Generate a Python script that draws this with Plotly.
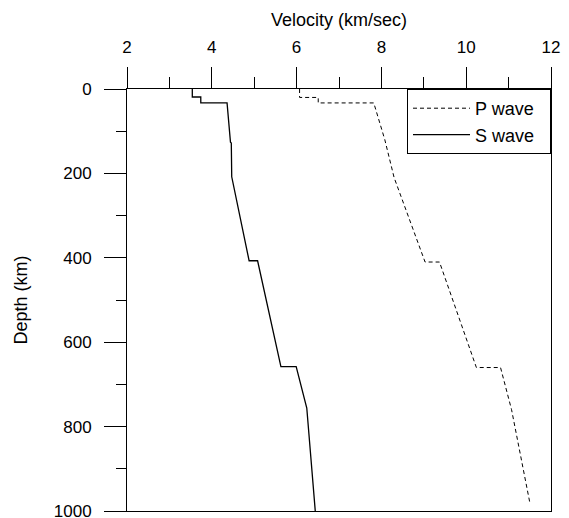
import plotly.graph_objects as go

# Data
p_depth = [0, 20, 20, 33, 33, 120, 210, 410, 410, 660, 660, 760, 980]
p_vel = [6.07, 6.07, 6.51, 6.51, 7.82, 8.08, 8.30, 9.03, 9.37, 10.24, 10.81, 11.07, 11.50]

s_depth = [0, 19, 19, 33, 33, 126, 128, 208, 407, 407, 658, 658, 756, 1000]
s_vel = [3.54, 3.54, 3.74, 3.74, 4.36, 4.44, 4.46, 4.47, 4.88, 5.08, 5.63, 5.99, 6.24, 6.44]

x_ticks = [2, 4, 6, 8, 10, 12]
y_ticks = [0, 200, 400, 600, 800, 1000]

FONT = "Arial, 'Liberation Sans', Helvetica, sans-serif"

fig = go.Figure()
fig.add_trace(go.Scatter(
    x=p_vel, y=p_depth, mode="lines", name="P wave\u00a0\u00a0",
    line=dict(color="black", width=1, dash="4px,3px"),
))
fig.add_trace(go.Scatter(
    x=s_vel, y=s_depth, mode="lines", name="S wave\u00a0\u00a0",
    line=dict(color="black", width=1.3),
))

# The page body has an 8px margin, so the figure is offset by 8px and margins compensate.
fig.update_layout(
    width=561, height=518,
    margin=dict(l=119, r=18, t=81, b=15, pad=0, autoexpand=False),
    paper_bgcolor="white", plot_bgcolor="white",
    font=dict(family=FONT, size=17, color="black"),
    showlegend=True,
    legend=dict(
        x=1, y=1, xanchor="right", yanchor="top",
        bordercolor="black", borderwidth=1, bgcolor="white",
        font=dict(size=18), tracegroupgap=0,
        itemwidth=57,
    ),
    xaxis=dict(
        side="top", range=[2, 12], tickvals=x_ticks, ticktext=[str(v) for v in x_ticks],
        ticks="outside", ticklen=21, tickwidth=1, tickcolor="black",
        minor=dict(dtick=1, ticks="outside", ticklen=11, tickwidth=1, tickcolor="black", showgrid=False),
        showline=True, linecolor="black", linewidth=1, mirror=True,
        showgrid=False, zeroline=False, automargin=False,
        ticklabelstandoff=7, ticklabeloverflow="allow",
        title=dict(text="Velocity (km/sec)", font=dict(size=18), standoff=6),
        tickfont=dict(size=17),
    ),
    yaxis=dict(
        range=[1000, 0], tickvals=y_ticks, ticktext=[str(v) for v in y_ticks],
        ticks="outside", ticklen=22, tickwidth=1, tickcolor="black",
        minor=dict(dtick=100, ticks="outside", ticklen=10, tickwidth=1, tickcolor="black", showgrid=False),
        showline=True, linecolor="black", linewidth=1, mirror=True,
        showgrid=False, zeroline=False, automargin=False,
        ticklabelstandoff=9, ticklabeloverflow="allow",
        title=dict(text="Depth (km)", font=dict(size=18), standoff=21),
        tickfont=dict(size=17),
    ),
)

fig.write_html("out.html")
